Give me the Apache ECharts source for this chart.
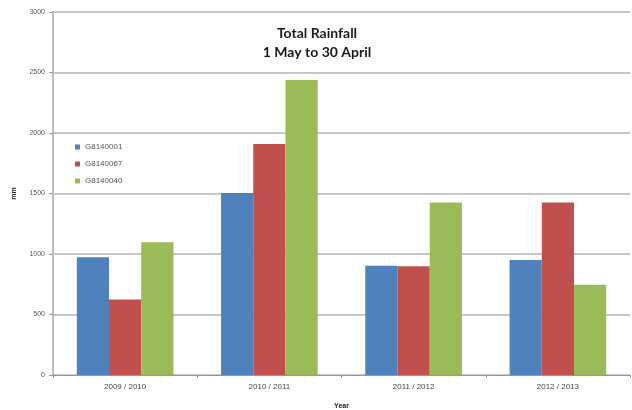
<!DOCTYPE html>
<html>
<head>
<meta charset="utf-8">
<script src="https://cdn.jsdelivr.net/npm/echarts@6/dist/echarts.min.js"></script>
<style>html,body{margin:0;padding:0;background:#fff}#c{width:632px;height:410px}</style>
</head>
<body>
<div id="c"></div>
<script>
const categories = ['2009 / 2010', '2010 / 2011', '2011 / 2012', '2012 / 2013'];
const seriesNames = ['G8140001', 'G8140067', 'G8140040'];
const g8140001 = [973, 1505, 903, 950];
const g8140067 = [625, 1909, 898, 1425];
const g8140040 = [1097, 2438, 1425, 746];
const yTicks = [0, 500, 1000, 1500, 2000, 2500, 3000];
const colors = ['#4F81BD', '#C0504D', '#9BBB59'];
const values = [g8140001, g8140067, g8140040];

const chart = echarts.init(document.getElementById('c'));
chart.setOption({
  animation: false,
  backgroundColor: '#fff',
  title: {
    text: 'Total Rainfall\n1 May to 30 April',
    left: 312, top: 19, textAlign: 'center',
    textStyle: { fontFamily: 'Lato', fontWeight: 'bold', fontSize: 14, color: '#1a1a1a', lineHeight: 19 }
  },
  legend: {
    orient: 'vertical', left: 70, top: 138, itemWidth: 5, itemHeight: 5, itemGap: 9,
    icon: 'rect',
    textStyle: { fontFamily: 'Liberation Sans', fontSize: 8, color: '#555' },
    data: seriesNames
  },
  grid: { left: 53, right: 2, top: 12, bottom: 35, containLabel: false, outerBoundsMode: 'none' },
  xAxis: {
    type: 'category', data: categories,
    name: 'Year', nameLocation: 'middle', nameGap: 28,
    nameTextStyle: { fontFamily: 'Liberation Sans', fontWeight: 'bold', fontSize: 7, color: '#222' },
    axisLine: { lineStyle: { color: '#999', width: 1 } },
    axisTick: { show: true, length: 3, lineStyle: { color: '#999' } },
    axisLabel: { fontFamily: 'Liberation Sans', fontSize: 8, color: '#444', margin: 8 }
  },
  yAxis: {
    type: 'value', min: 0, max: yTicks[yTicks.length - 1], interval: 500,
    name: 'mm', nameLocation: 'middle', nameGap: 35, nameRotate: 90,
    nameTextStyle: { fontFamily: 'Liberation Sans', fontWeight: 'bold', fontSize: 7, color: '#222' },
    axisLine: { show: true, lineStyle: { color: '#bbb', width: 2 } },
    axisTick: { show: true, length: 4, lineStyle: { color: '#999' } },
    axisLabel: { fontFamily: 'Liberation Sans', fontSize: 7, color: '#555', margin: 8, formatter: v => String(v) },
    splitLine: { lineStyle: { color: '#b5b5b5', width: 1.5 } }
  },
  series: seriesNames.map((n, i) => ({
    name: n, type: 'bar', data: values[i],
    itemStyle: { color: colors[i] },
    barGap: '0%', barCategoryGap: '33%'
  }))
});
</script>
</body>
</html>
